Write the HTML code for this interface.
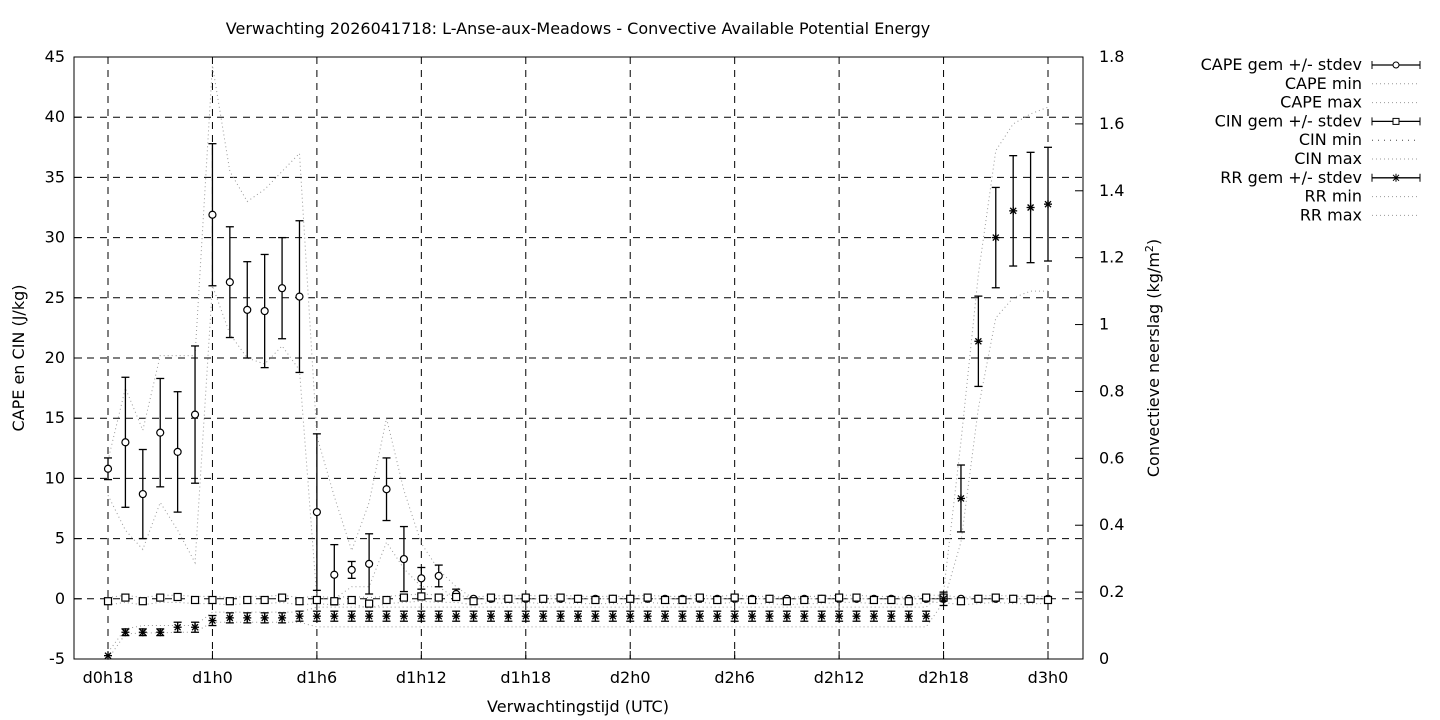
<!DOCTYPE html>
<html><head><meta charset="utf-8"><style>
body{margin:0;background:#fff;}
svg{display:block;font-family:"DejaVu Sans","Liberation Sans",sans-serif;}
</style></head><body>
<svg id="c" width="1440" height="720" viewBox="0 0 1440 720"></svg>
<script>
const hours=[];for(let h=18;h<=72;h++)hours.push(h);
const capeMean=[10.8,13.0,8.7,13.8,12.2,15.3,31.9,26.3,24.0,23.9,25.8,25.1,7.2,2.0,2.4,2.9,9.1,3.3,1.7,1.9,0.4,0,0,0,0,0,0,0,0,0,0,0,0,0,0,0,0,0,0,0,0,0,0,0,0,0,0,0,0,0,0,0,0,0,0];
const capeSd=[0.9,5.4,3.7,4.5,5.0,5.7,5.9,4.6,4.0,4.7,4.2,6.3,6.5,2.5,0.7,2.5,2.6,2.7,0.9,0.9,0.4,0,0,0,0,0,0,0,0,0,0,0,0,0,0,0,0,0,0,0,0,0,0,0,0,0,0,0,0,0,0,0,0,0,0];
const capeMin=[8.6,5.7,4.1,8.0,5.7,3.0,26,22,20,19.5,21,19,0,0,1,1,4.7,2.5,1,1,0,0,0,0,0,0,0,0,0,0,0,0,0,0,0,0,0,0,0,0,0,0,0,0,0,0,0,0,0,0,0,0,0,0,0];
const capeMax=[11.5,17.5,14,20.2,20.2,20.2,44.3,35.5,33,34,35.5,37,13.5,8.5,4,8,15,9,4.6,2.4,1,0,0,0,0,0,0,0,0,0,0,0,0,0,0,0,0,0,0,0,0,0,0,0,0,0,0,0,0,0,0,0,0,0,0];
const cinMean=[-0.2,0.1,-0.2,0.1,0.15,-0.1,-0.1,-0.2,-0.1,-0.1,0.1,-0.2,-0.1,-0.2,-0.1,-0.4,-0.1,0.1,0.2,0.1,0.15,-0.2,0.1,0,0.1,0,0.1,0,-0.1,0,0,0.1,-0.1,-0.1,0.1,-0.1,0.1,-0.1,0,-0.2,-0.1,0,0.1,0.1,-0.1,-0.1,-0.2,0.1,0.1,-0.2,0,0.1,0,0,-0.1];
const cinMin=[-0.5,-0.3,-0.5,-0.3,-0.3,-0.4,-0.4,-0.5,-0.4,-0.4,-0.3,-0.5,-0.4,-0.5,-0.4,-0.8,-0.4,-0.3,-0.2,-0.3,-0.3,-0.5,-0.3,-0.4,-0.3,-0.4,-0.3,-0.4,-0.4,-0.4,-0.4,-0.3,-0.4,-0.4,-0.3,-0.4,-0.3,-0.4,-0.4,-0.5,-0.4,-0.4,-0.3,-0.3,-0.4,-0.4,-0.5,-0.3,-0.3,-0.5,-0.4,-0.3,-0.4,-0.4,-0.4];
const cinMax=[0.1,0.3,0.1,0.3,0.3,0.2,0.2,0.1,0.2,0.2,0.3,0.1,0.2,0.1,0.2,0.1,0.2,0.3,0.4,0.3,0.3,0.1,0.3,0.2,0.3,0.2,0.3,0.2,0.2,0.2,0.2,0.3,0.2,0.2,0.3,0.2,0.3,0.2,0.2,0.1,0.2,0.2,0.3,0.3,0.2,0.2,0.1,0.3,0.3,0.1,0.2,0.3,0.2,0.2,0.2];
const rrMean=[0.01,0.08,0.08,0.08,0.095,0.095,0.115,0.123,0.123,0.123,0.123,0.128,0.128,0.128,0.128,0.128,0.128,0.128,0.128,0.128,0.128,0.128,0.128,0.128,0.128,0.128,0.128,0.128,0.128,0.128,0.128,0.128,0.128,0.128,0.128,0.128,0.128,0.128,0.128,0.128,0.128,0.128,0.128,0.128,0.128,0.128,0.128,0.128,0.18,0.48,0.95,1.26,1.34,1.35,1.36];
const rrSd=[0,0.01,0.01,0.01,0.015,0.015,0.015,0.015,0.015,0.015,0.015,0.015,0.015,0.015,0.015,0.015,0.015,0.015,0.015,0.015,0.015,0.015,0.015,0.015,0.015,0.015,0.015,0.015,0.015,0.015,0.015,0.015,0.015,0.015,0.015,0.015,0.015,0.015,0.015,0.015,0.015,0.015,0.015,0.015,0.015,0.015,0.015,0.015,0.02,0.1,0.135,0.15,0.165,0.165,0.17];
const rrMin=[0,0.075,0.078,0.078,0.08,0.08,0.11,0.11,0.11,0.11,0.11,0.11,0.096,0.096,0.096,0.096,0.096,0.096,0.096,0.096,0.096,0.096,0.096,0.096,0.096,0.096,0.096,0.096,0.096,0.096,0.096,0.096,0.096,0.096,0.096,0.096,0.096,0.096,0.096,0.096,0.096,0.096,0.096,0.096,0.096,0.096,0.096,0.096,0.17,0.35,0.75,1.02,1.08,1.1,1.1];
const rrMax=[0.02,0.09,0.1,0.1,0.1,0.1,0.14,0.14,0.14,0.14,0.14,0.14,0.155,0.155,0.155,0.155,0.155,0.155,0.155,0.155,0.155,0.155,0.155,0.155,0.155,0.155,0.155,0.155,0.155,0.155,0.155,0.155,0.155,0.155,0.155,0.155,0.155,0.155,0.155,0.155,0.155,0.155,0.155,0.155,0.155,0.155,0.155,0.155,0.2,0.65,1.15,1.52,1.6,1.63,1.65];
const yTicks=[-5,0,5,10,15,20,25,30,35,40,45];
const y2Ticks=[0,0.2,0.4,0.6,0.8,1,1.2,1.4,1.6,1.8];
const xTickHours=[18,24,30,36,42,48,54,60,66,72];
const xTickLabels=["d0h18","d1h0","d1h6","d1h12","d1h18","d2h0","d2h6","d2h12","d2h18","d3h0"];

const L=74,R=1083,T=57,B=659,FS=16;
const X=h=>108+(h-18)*(1048-108)/54;
const Y=v=>B-(v+5)*(B-T)/50;
const Y2=v=>B-v*(B-T)/1.8;
const svg=document.getElementById('c');const NS='http://www.w3.org/2000/svg';
function el(t,a,p){const e=document.createElementNS(NS,t);for(const k in a)e.setAttribute(k,a[k]);(p||svg).appendChild(e);return e;}
function txt(x,y,s,anchor,p){const e=el('text',{x:x,y:y,'font-size':FS,'text-anchor':anchor||'middle',fill:'#000'},p);e.textContent=s;return e;}

const grid=el('g',{});
yTicks.forEach(v=>{if(v>-5&&v<45)el('line',{x1:L,x2:R,y1:Y(v),y2:Y(v),stroke:'#000','stroke-dasharray':'7,6','stroke-width':1},grid);});
xTickHours.forEach(h=>el('line',{x1:X(h),x2:X(h),y1:T,y2:B,stroke:'#000','stroke-dasharray':'7,6','stroke-width':1},grid));

const ax=el('g',{});
el('rect',{x:L,y:T,width:R-L,height:B-T,fill:'none',stroke:'#000','stroke-width':1},ax);
yTicks.forEach(v=>{el('line',{x1:L,x2:L+8,y1:Y(v),y2:Y(v),stroke:'#000'},ax);txt(L-9,Y(v)+5,String(v),'end',ax);});
y2Ticks.forEach(v=>{el('line',{x1:R-8,x2:R,y1:Y2(v),y2:Y2(v),stroke:'#000'},ax);txt(R+16,Y2(v)+5,String(v),'start',ax);});
xTickHours.forEach((h,i)=>{el('line',{x1:X(h),x2:X(h),y1:B-8,y2:B,stroke:'#000'},ax);txt(X(h),B+24,xTickLabels[i],'middle',ax);});

const t=txt(578,34,'Verwachting 2026041718: L-Anse-aux-Meadows - Convective Available Potential Energy');
const xt=txt(578,712,'Verwachtingstijd (UTC)');
const yt=txt(0,0,'CAPE en CIN (J/kg)');yt.setAttribute('transform','translate(24,358) rotate(-90)');
const y2t=txt(0,0,'');y2t.innerHTML='Convectieve neerslag (kg/m<tspan font-size="11" dy="-6">2</tspan><tspan dy="6">)</tspan>';y2t.setAttribute('transform','translate(1159,358) rotate(-90)');

function dotted(vals,fy,name){const g=el('polyline',{points:vals.map((v,i)=>X(hours[i])+','+fy(v)).join(' '),fill:'none',stroke:'#999','stroke-width':1,'stroke-dasharray':'1,3'});}
dotted(capeMin,Y,'cape-min-line');dotted(capeMax,Y,'cape-max-line');
dotted(cinMin,Y,'cin-min-line');dotted(cinMax,Y,'cin-max-line');
dotted(rrMin,Y2,'rr-min-line');dotted(rrMax,Y2,'rr-max-line');

function errbars(mean,sd,fy,name,mark){const g=el('g',{});
mean.forEach((m,i)=>{const x=X(hours[i]);const y=fy(m);
if(sd[i]>0){const y1=fy(m-sd[i]),y2=fy(m+sd[i]);el('line',{x1:x,x2:x,y1:y1,y2:y2,stroke:'#000','stroke-width':1.3},g);el('line',{x1:x-4,x2:x+4,y1:y1,y2:y1,stroke:'#000','stroke-width':1.3},g);el('line',{x1:x-4,x2:x+4,y1:y2,y2:y2,stroke:'#000','stroke-width':1.3},g);}
if(mark==='o')el('circle',{cx:x,cy:y,r:3.5,fill:'#fff',stroke:'#000','stroke-width':1.2},g);
else if(mark==='s')el('rect',{x:x-3.5,y:y-3.5,width:7,height:7,fill:'#fff',stroke:'#000','stroke-width':1.2},g);
else{[[-4,0,4,0],[0,-4,0,4],[-3,-3,3,3],[-3,3,3,-3]].forEach(d=>el('line',{x1:x+d[0],y1:y+d[1],x2:x+d[2],y2:y+d[3],stroke:'#000','stroke-width':1.3},g));}
});}
errbars(capeMean,capeSd,Y,'cape-mean-series','o');
errbars(cinMean,cinMean.map(()=>0.15),Y,'cin-mean-series','s');
errbars(rrMean,rrSd,Y2,'rr-mean-series','*');

const leg=el('g',{});
const items=[['CAPE gem +/- stdev','o'],['CAPE min','d'],['CAPE max','d'],['CIN gem +/- stdev','s'],['CIN min','d2'],['CIN max','d'],['RR gem +/- stdev','*'],['RR min','d'],['RR max','d']];
items.forEach((it,i)=>{const y=65+i*18.8;const e=txt(1362,y+5,it[0],'end',leg);
if(it[1]==='d'||it[1]==='d2')el('line',{x1:1372,x2:1420,y1:y,y2:y,stroke:it[1]==='d2'?'#444':'#999','stroke-dasharray':it[1]==='d2'?'1,5':'1,3'},leg);
else{el('line',{x1:1372,x2:1420,y1:y,y2:y,stroke:'#000','stroke-width':1.3},leg);el('line',{x1:1372,x2:1372,y1:y-4,y2:y+4,stroke:'#000'},leg);el('line',{x1:1420,x2:1420,y1:y-4,y2:y+4,stroke:'#000'},leg);
 if(it[1]==='o')el('circle',{cx:1396,cy:y,r:3,fill:'#fff',stroke:'#000'},leg);
 else if(it[1]==='s')el('rect',{x:1393,y:y-3,width:6,height:6,fill:'#fff',stroke:'#000'},leg);
 else [[-4,0,4,0],[0,-4,0,4],[-3,-3,3,3],[-3,3,3,-3]].forEach(d=>el('line',{x1:1396+d[0],y1:y+d[1],x2:1396+d[2],y2:y+d[3],stroke:'#000'},leg));}
});
</script>
</body></html>
